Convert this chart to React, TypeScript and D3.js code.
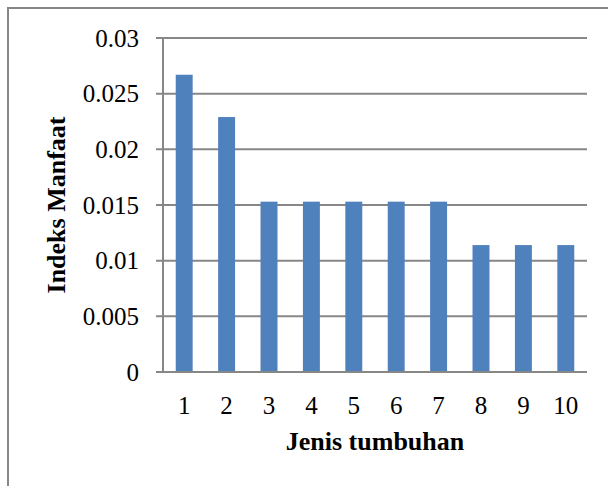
import { useEffect, useRef } from "react";
import * as d3 from "d3";

const CATEGORIES = ["1", "2", "3", "4", "5", "6", "7", "8", "9", "10"];
const VALUES = [0.0267, 0.0229, 0.0153, 0.0153, 0.0153, 0.0153, 0.0153, 0.0114, 0.0114, 0.0114];
const Y_TICKS = [0, 0.005, 0.01, 0.015, 0.02, 0.025, 0.03];
const Y_TICK_LABELS = ["0", "0.005", "0.01", "0.015", "0.02", "0.025", "0.03"];

export default function App() {
  const ref = useRef<SVGSVGElement | null>(null);

  useEffect(() => {
    if (!ref.current) return;
    const svg = d3.select(ref.current);
    svg.selectAll("*").remove();

    const width = 608;
    const height = 486;
    const margin = { top: 38, right: 21, bottom: 114, left: 163 };
    const font = "'Liberation Serif', 'Times New Roman', serif";
    const grey = "#878787";

    // outer frame, runs off the right and bottom edges
    svg
      .append("rect")
      .attr("x", 8)
      .attr("y", 8)
      .attr("width", 800)
      .attr("height", 800)
      .attr("fill", "none")
      .attr("stroke", grey)
      .attr("stroke-width", 2);

    const x = d3
      .scaleBand<string>()
      .domain(CATEGORIES)
      .range([margin.left, width - margin.right])
      .paddingInner(0.6)
      .paddingOuter(0.3);

    const y = d3
      .scaleLinear()
      .domain([0, 0.03])
      .range([height - margin.bottom, margin.top]);

    // gridlines + y ticks
    svg
      .append("g")
      .selectAll("line")
      .data(Y_TICKS)
      .enter()
      .append("line")
      .attr("x1", margin.left - 7)
      .attr("x2", width - margin.right)
      .attr("y1", (d) => y(d))
      .attr("y2", (d) => y(d))
      .attr("stroke", grey)
      .attr("stroke-width", 2);

    // y axis line
    svg
      .append("line")
      .attr("x1", margin.left)
      .attr("x2", margin.left)
      .attr("y1", y(0.03))
      .attr("y2", y(0))
      .attr("stroke", grey)
      .attr("stroke-width", 2);

    svg
      .append("g")
      .selectAll("text")
      .data(Y_TICKS)
      .enter()
      .append("text")
      .text((_, i) => Y_TICK_LABELS[i])
      .attr("x", margin.left - 24)
      .attr("y", (d) => y(d))
      .attr("dy", "0.34em")
      .attr("text-anchor", "end")
      .attr("font-family", font)
      .attr("font-size", 25)
      .attr("fill", "#000");

    svg
      .append("g")
      .selectAll("rect")
      .data(VALUES)
      .enter()
      .append("rect")
      .attr("x", (_, i) => x(CATEGORIES[i]) ?? 0)
      .attr("y", (d) => y(d))
      .attr("width", x.bandwidth())
      .attr("height", (d) => y(0) - y(d))
      .attr("fill", "#4F81BD");

    // redraw baseline over the bars
    svg
      .append("line")
      .attr("x1", margin.left - 7)
      .attr("x2", width - margin.right)
      .attr("y1", y(0))
      .attr("y2", y(0))
      .attr("stroke", grey)
      .attr("stroke-width", 2);

    svg
      .append("g")
      .selectAll("text")
      .data(CATEGORIES)
      .enter()
      .append("text")
      .text((d) => d)
      .attr("x", (d) => (x(d) ?? 0) + x.bandwidth() / 2)
      .attr("y", y(0) + 42)
      .attr("text-anchor", "middle")
      .attr("font-family", font)
      .attr("font-size", 25)
      .attr("fill", "#000");

    svg
      .append("text")
      .text("Jenis tumbuhan")
      .attr("x", (margin.left + width - margin.right) / 2)
      .attr("y", 450)
      .attr("text-anchor", "middle")
      .attr("font-family", font)
      .attr("font-weight", "bold")
      .attr("font-size", 26)
      .attr("fill", "#000");

    svg
      .append("text")
      .text("Indeks Manfaat")
      .attr("transform", `translate(65,205) rotate(-90)`)
      .attr("text-anchor", "middle")
      .attr("font-family", font)
      .attr("font-weight", "bold")
      .attr("font-size", 26)
      .attr("fill", "#000");
  }, []);

  return (
    <svg
      ref={ref}
      width={608}
      height={486}
      style={{ position: "absolute", top: 0, left: 0, background: "#fff", overflow: "hidden" }}
    />
  );
}
